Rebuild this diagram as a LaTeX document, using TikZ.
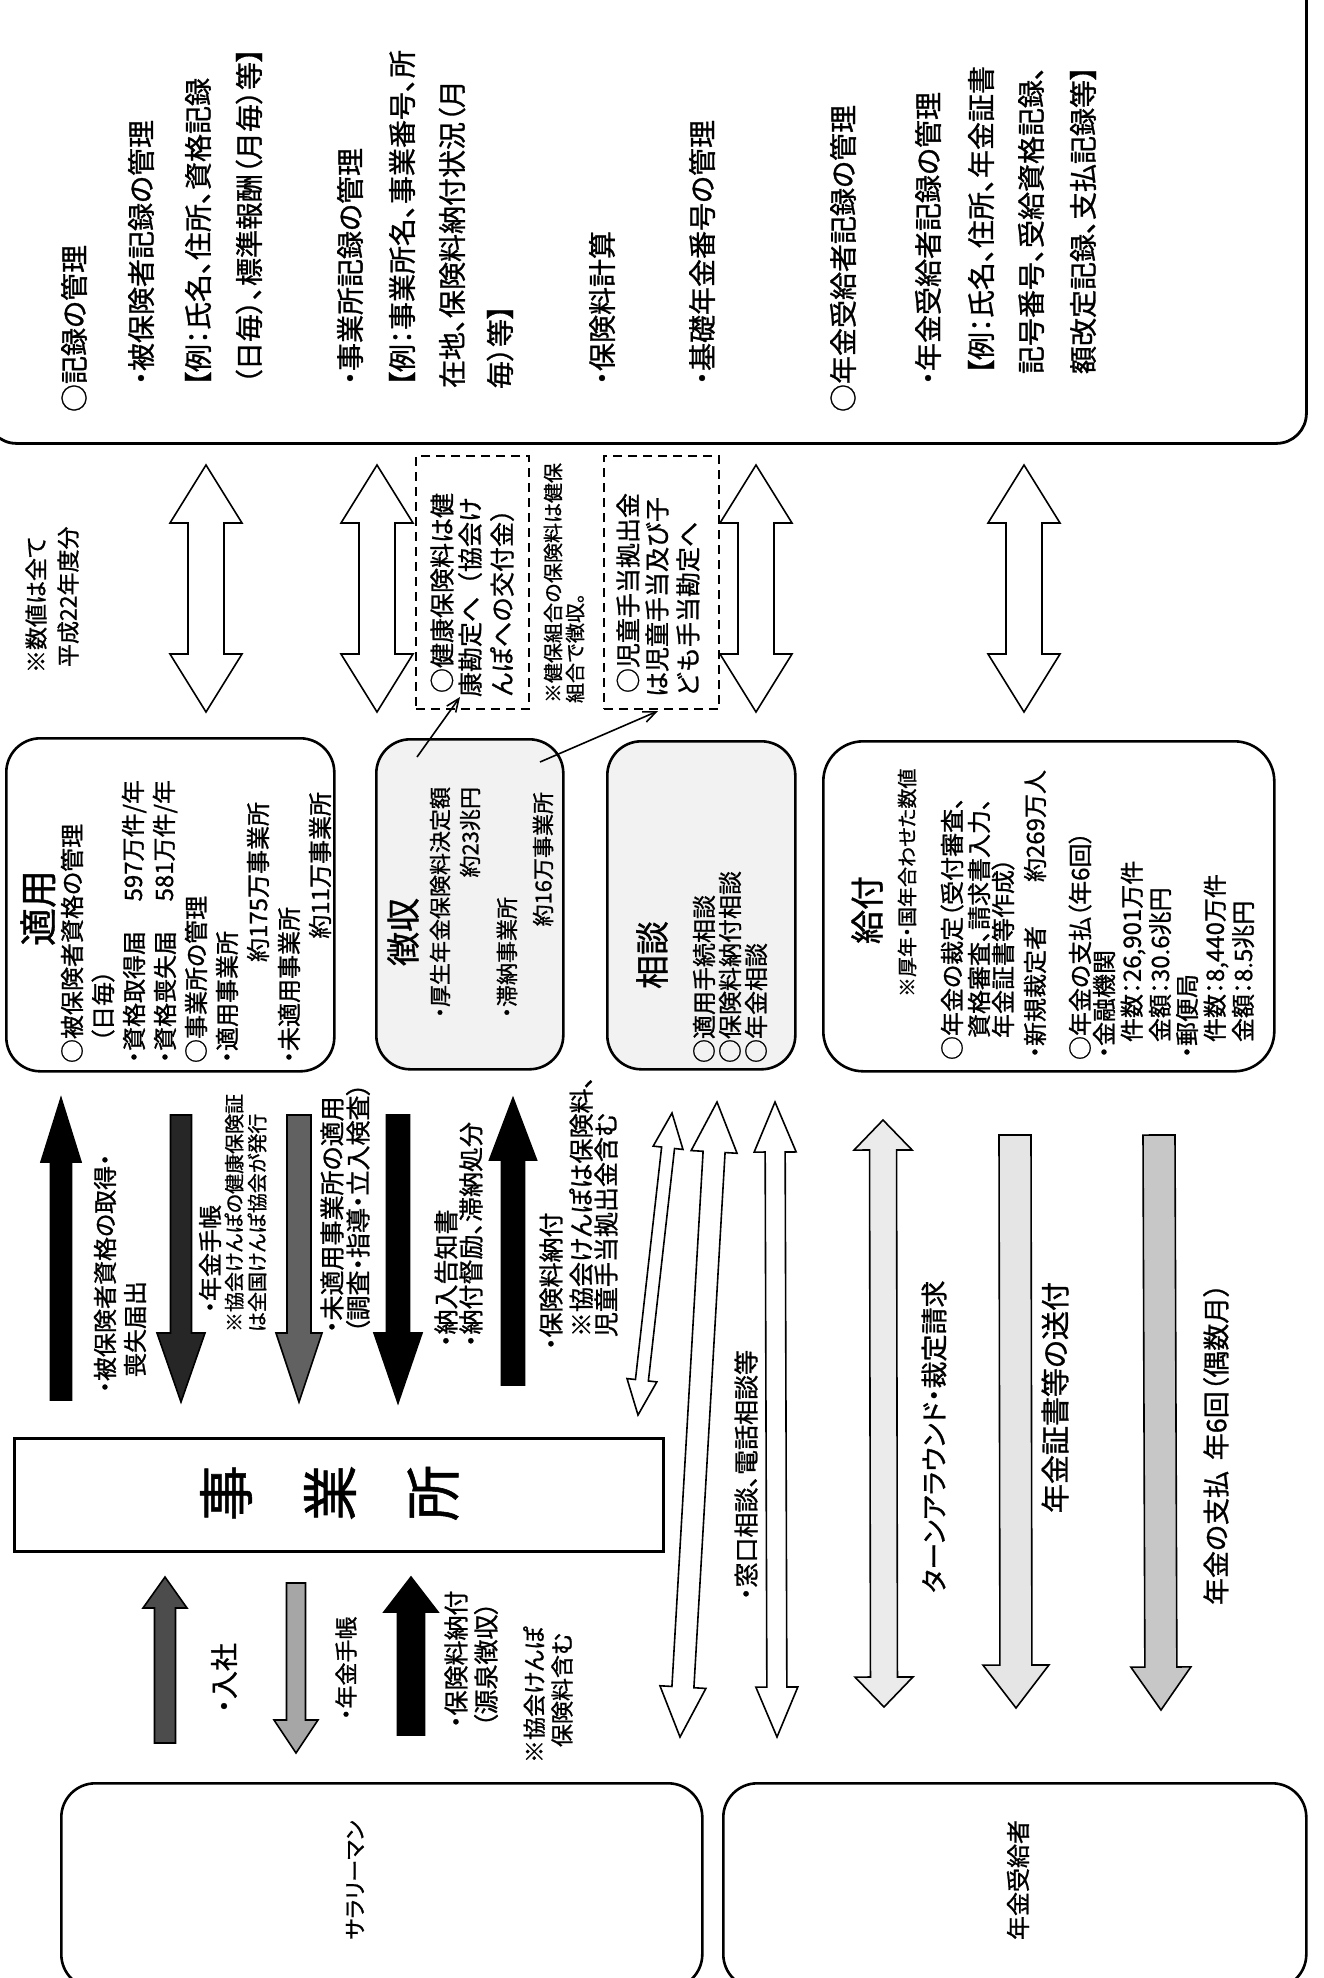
\documentclass[tikz,border=0pt]{standalone}
\usepackage{fontspec}
% proportional face for most texts, monospaced face for the dashed notes
\newfontfamily\jp[RawFeature=+palt, FakeBold=1]{Noto Sans CJK JP}
\newfontfamily\jm[FakeBold=1]{Noto Sans CJK JP}
\usetikzlibrary{calc,arrows.meta}

% block arrow with one head: style, tail, tip, half shaft, half head, head length
\newcommand\singlearrow[6]{%
  \coordinate (ab) at ($(#3)!#6!(#2)$);
  \draw[#1] ($(#2)!#4!90:(#3)$) -- ($(ab)!#4!-90:(#2)$) -- ($(ab)!#5!-90:(#2)$) -- (#3)
    -- ($(ab)!#5!90:(#2)$) -- ($(ab)!#4!90:(#2)$) -- ($(#2)!#4!-90:(#3)$) -- cycle;
}
% block arrow with two heads: style, end one, end two, half shaft, half head, head length
\newcommand\doublearrow[6]{%
  \coordinate (ba) at ($(#2)!#6!(#3)$);
  \coordinate (bb) at ($(#3)!#6!(#2)$);
  \draw[#1] (#2) -- ($(ba)!#5!90:(#3)$) -- ($(ba)!#4!90:(#3)$) -- ($(bb)!#4!-90:(#2)$)
    -- ($(bb)!#5!-90:(#2)$) -- (#3) -- ($(bb)!#5!90:(#2)$) -- ($(bb)!#4!90:(#2)$)
    -- ($(ba)!#4!-90:(#3)$) -- ($(ba)!#5!-90:(#3)$) -- cycle;
}

\tikzset{
  vt/.style={rotate=90, anchor=west, inner sep=0pt, outer sep=0pt,
    font=\jp\fontsize{#1}{#1}\selectfont},
  vm/.style={vt=#1, font=\jm\fontsize{#1}{#1}\selectfont},
  vte/.style={vt=#1, anchor=east},
  vtc/.style={vt=#1, anchor=center},
  box/.style={draw, line width=2.6pt, rounded corners=32pt, inner sep=0pt, anchor=north west},
  dbox/.style={draw, line width=2pt, dash pattern=on 9pt off 6pt, inner sep=0pt, anchor=north west},
  blk/.style={draw=black, line width=1.6pt, fill=#1, line join=miter},
  link/.style={line width=1.6pt, -{Straight Barb[length=13pt,width=11pt]}},
}

\begin{document}
\begin{tikzpicture}[x=1pt,y=-1pt]
\useasboundingbox (0,0) rectangle (1324,1978);
\clip (0,0) rectangle (1324,1978);
\fill[white] (0,0) rectangle (1324,1978);

% ---------- record keeping box ----------
\node[box, line width=2.8pt, rounded corners=30pt, minimum width=1320pt, minimum height=490pt] (rec) at (-15,-48) {};
\node[vt=28] (r1)  at (74,412)  {○記録の管理};
\node[vt=28] (r2)  at (141,385) {・被保険者記録の管理};
\node[vt=28] (r3)  at (198,386) {【例：氏名、住所、資格記録};
\node[vt=28] (r4)  at (249,384) {（日毎）、標準報酬（月毎）等】};
\node[vt=28] (r5)  at (350,385) {・事業所記録の管理};
\node[vt=28] (r6)  at (402,386) {【例：事業所名、事業番号、所};
\node[vt=28] (r7)  at (452,388) {在地、保険料納付状況（月};
\node[vt=28] (r8)  at (500,389) {毎）等】};
\node[vt=28] (r9)  at (602,385) {・保険料計算};
\node[vt=28] (r10) at (702,385) {・基礎年金番号の管理};
\node[vt=28] (r11) at (843,412) {○年金受給者記録の管理};
\node[vt=28] (r12) at (928,385) {・年金受給者記録の管理};
\node[vt=28] (r13) at (981,374) {【例：氏名、住所、年金証書};
\node[vt=28] (r14) at (1031,374) {記号番号、受給資格記録、};
\node[vt=28] (r15) at (1083,374) {額改定記録、支払記録等】};

% note on figures
\node[vt=23] (n1) at (36,673) {※数値は全て};
\node[vt=23] (n2) at (68,667) {平成22年度分};

% ---------- middle row boxes ----------
\node[box, rounded corners=34pt, minimum width=328pt, minimum height=333pt] (tekiyo) at (5,737) {};
\node[box, rounded corners=34pt, minimum width=187pt, minimum height=330pt, fill=black!5] (choshu) at (375,738) {};
\node[box, rounded corners=34pt, minimum width=188pt, minimum height=328pt, fill=black!5] (sodan) at (606,740) {};
\node[box, rounded corners=40pt, minimum width=451pt, minimum height=330pt] (kyufu) at (822,740) {};

% 適用
\node[vtc=38] (t0) at (38,908) {適用};
\node[vt=24] (t1) at (72,1063)  {○被保険者資格の管理};
\node[vt=24] (t2) at (103,1042) {（日毎）};
\node[vt=24] (t3) at (134,1063) {・資格取得届};
\node[vte=24] (t3n) at (134,780) {597万件/年};
\node[vt=24] (t4) at (165,1063) {・資格喪失届};
\node[vte=24] (t4n) at (165,780) {581万件/年};
\node[vt=24] (t5) at (196,1063) {○事業所の管理};
\node[vt=24] (t6) at (227,1063) {・適用事業所};
\node[vte=24] (t7) at (258,802) {約175万事業所};
\node[vt=24] (t8) at (289,1063) {・未適用事業所};
\node[vte=24] (t9) at (320,792) {約11万事業所};

% 徴収
\node[vtc=34] (c0) at (403,932) {徴収};
\node[vt=22] (c1) at (440,1018) {・厚生年金保険料決定額};
\node[vte=22] (c2) at (470,787) {約23兆円};
\node[vt=22] (c3) at (507,1018) {・滞納事業所};
\node[vte=22] (c4) at (543,792) {約16万事業所};

% 相談
\node[vtc=34] (s0) at (652,955) {相談};
\node[vt=24] (s1) at (704,1063) {○適用手続相談};
\node[vt=24] (s2) at (730,1063) {○保険料納付相談};
\node[vt=24] (s3) at (756,1063) {○年金相談};

% 給付
\node[vtc=34] (g0) at (867,910) {給付};
\node[vt=20] (gn) at (907,997) {※厚年・国年合わせた数値};
\node[vt=24] (g1) at (952,1060) {○年金の裁定（受付審査、};
\node[vt=24] (g2) at (979,1038) {資格審査、請求書入力、};
\node[vt=24] (g3) at (1003,1038) {年金証書等作成）};
\node[vt=24] (g4) at (1035,1058) {・新規裁定者};
\node[vte=24] (g4n) at (1035,770) {約269万人};
\node[vt=24] (g5) at (1080,1060) {○年金の支払（年6回）};
\node[vt=24] (g6) at (1104,1058) {・金融機関};
\node[vt=24] (g7) at (1133,1042) {件数：26,901万件};
\node[vt=24] (g8) at (1160,1042) {金額：30.6兆円};
\node[vt=24] (g9) at (1187,1058) {・郵便局};
\node[vt=24] (g10) at (1216,1042) {件数：8,440万件};
\node[vt=24] (g11) at (1243,1042) {金額：8.5兆円};

% ---------- dashed notes ----------
\node[dbox, minimum width=113pt, minimum height=253pt] (kenpo) at (415,455) {};
\node[vm=25] (k1) at (442,693) {○健康保険料は健};
\node[vm=25] (k2) at (470,697) {康勘定へ（協会け};
\node[vm=25] (k3) at (502,697) {んぽへの交付金）};
\node[vm=20] (k4) at (553,703) {※健保組合の保険料は健保};
\node[vm=20] (k5) at (575,703) {組合で徴収。};
\node[dbox, minimum width=115pt, minimum height=253pt] (jido) at (603,455) {};
\node[vm=25] (j1) at (628,693) {○児童手当拠出金};
\node[vm=25] (j2) at (657,697) {は児童手当及び子};
\node[vm=25] (j3) at (688,697) {ども手当勘定へ};

\coordinate (cf1) at (417,757);
\coordinate (ct1) at (460,697);
\coordinate (cf2) at (540,762);
\coordinate (ct2) at (658,711);
\draw[link] (cf1) -- (ct1);
\draw[link] (cf2) -- (ct2);

% ---------- exchanges with the record box ----------
\foreach \i/\x in {1/206,2/377,3/756,4/1024}{
  \coordinate (ra\i) at (\x,465);
  \coordinate (rb\i) at (\x,712);
  \doublearrow{blk=white}{ra\i}{rb\i}{18pt}{36pt}{58pt}
}

% ---------- office ----------
\node[draw, line width=2.6pt, minimum width=649pt, minimum height=113pt, inner sep=0pt, anchor=north west] (office) at (13,1437) {};
\node[vtc=56] (o1) at (226,1493) {事};
\node[vtc=56] (o2) at (330,1493) {業};
\node[vtc=56] (o3) at (433,1493) {所};

% arrows between office and the middle row
\coordinate (a1t) at (61,1400);   \coordinate (a1h) at (61,1098);
\coordinate (a2t) at (181,1115);  \coordinate (a2h) at (181,1402);
\coordinate (a3t) at (299,1115);  \coordinate (a3h) at (299,1402);
\coordinate (a4t) at (398,1115);  \coordinate (a4h) at (398,1403);
\coordinate (a5t) at (513,1385);  \coordinate (a5h) at (513,1098);
\singlearrow{blk=black}{a1t}{a1h}{10.5pt}{20pt}{64pt}
\singlearrow{blk=black!85}{a2t}{a2h}{10.5pt}{24pt}{69pt}
\singlearrow{blk=black!62}{a3t}{a3h}{12pt}{23pt}{69pt}
\singlearrow{blk=black}{a4t}{a4h}{11.5pt}{24pt}{70pt}
\singlearrow{blk=black}{a5t}{a5h}{11.5pt}{23.5pt}{62pt}

\node[vt=24] (l1a) at (105,1393) {・被保険者資格の取得・};
\node[vt=24] (l1b) at (135,1377) {喪失届出};
\node[vt=24] (l2a) at (210,1313) {・年金手帳};
\node[vt=20] (l2b) at (234,1332) {※協会けんぽの健康保険証};
\node[vt=20] (l2c) at (257,1332) {は全国けんぽ協会が発行};
\node[vt=25] (l3a) at (332,1333) {・未適用事業所の適用};
\node[vt=25] (l3b) at (358,1333) {（調査・指導・立入検査）};
\node[vt=25] (l4a) at (446,1347) {・納入告知書};
\node[vt=25] (l4b) at (471,1347) {・納付督励、滞納処分};
\node[vt=25] (l5a) at (551,1350) {・保険料納付};
\node[vt=25] (l5b) at (581,1337) {※協会けんぽは保険料、};
\node[vt=25] (l5c) at (606,1337) {児童手当拠出金含む};

% consultation arrows
\coordinate (d1a) at (672,1113); \coordinate (d1b) at (638,1415);
\coordinate (d2a) at (717,1102); \coordinate (d2b) at (680,1737);
\coordinate (d3a) at (775,1102); \coordinate (d3b) at (777,1737);
\doublearrow{blk=white}{d1a}{d1b}{6.5pt}{15pt}{35pt}
\doublearrow{blk=white}{d2a}{d2b}{11pt}{23pt}{50pt}
\doublearrow{blk=white}{d3a}{d3b}{10pt}{21pt}{50pt}
\node[vt=25] (lw) at (746,1600) {・窓口相談、電話相談等};

% benefit arrows
\coordinate (e1a) at (883,1120); \coordinate (e1b) at (884,1707);
\doublearrow{blk=black!8}{e1a}{e1b}{13.5pt}{29pt}{30pt}
\coordinate (e2t) at (1015,1135); \coordinate (e2h) at (1016,1708);
\singlearrow{blk=black!10}{e2t}{e2h}{16pt}{33pt}{43pt}
\coordinate (e3t) at (1159,1135); \coordinate (e3h) at (1161,1710);
\singlearrow{blk=black!22}{e3t}{e3h}{16pt}{30pt}{43pt}
\node[vt=27] (le1) at (934,1593) {ターンアラウンド・裁定請求};
\node[vt=29] (le2) at (1055,1513) {年金証書等の送付};
\node[vt=27] (le3) at (1216,1605) {年金の支払\hspace{0.4em}年6回（偶数月）};

% ---------- employee side ----------
\coordinate (b1t) at (165,1743); \coordinate (b1h) at (165,1577);
\coordinate (b2t) at (296,1583); \coordinate (b2h) at (296,1753);
\coordinate (b3t) at (411,1735); \coordinate (b3h) at (411,1577);
\singlearrow{blk=black!70}{b1t}{b1h}{10.5pt}{22pt}{31pt}
\singlearrow{blk=black!35}{b2t}{b2h}{9.5pt}{22pt}{33pt}
\singlearrow{blk=black}{b3t}{b3h}{13.5pt}{27pt}{35pt}
\node[vt=28] (m1) at (224,1713) {・入社};
\node[vt=23] (m2) at (346,1720) {・年金手帳};
\node[vt=25] (m3) at (456,1728) {・保険料納付};
\node[vt=25] (m4) at (486,1727) {（源泉徴収）};
\node[vt=23] (m5) at (534,1763) {※協会けんぽ};
\node[vt=23] (m6) at (562,1747) {保険料含む};

% ---------- people ----------
\node[box, rounded corners=34pt, minimum width=641pt, minimum height=205pt] (salary) at (60,1782) {};
\node[box, rounded corners=34pt, minimum width=583pt, minimum height=205pt] (pension) at (722,1782) {};
\node[vtc=22] (p1) at (355,1880) {サラリーマン};
\node[vtc=24] (p2) at (1018,1880) {年金受給者};
\end{tikzpicture}
\end{document}
